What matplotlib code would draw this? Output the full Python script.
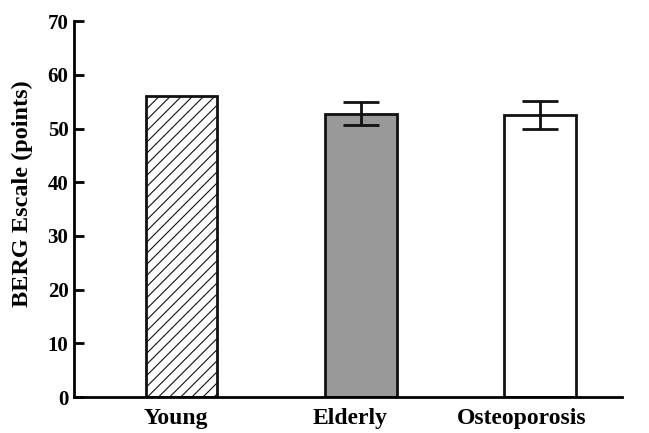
import numpy as np
import matplotlib.pyplot as plt

# values
groups = ["Young", "Elderly", "Osteoporosis"]
means = [56.0, 52.8, 52.5]
errors = [0.0, 2.1, 2.6]
yticks = [0, 10, 20, 30, 40, 50, 60, 70]

plt.rcParams['font.family'] = ['Liberation Serif', 'DejaVu Serif']
plt.rcParams['font.weight'] = 'bold'
plt.rcParams['hatch.linewidth'] = 0.8

fig = plt.figure(figsize=(6.49, 4.33), dpi=100)
ax = fig.add_axes([0.114, 0.083, 0.844, 0.868])

x = np.arange(len(groups))
colors = ["white", "#999999", "white"]
hatches = ["///", "", ""]
for i in range(len(groups)):
    ax.bar(x[i], means[i], width=0.4, color=colors[i], edgecolor="#111111",
           linewidth=2, hatch=hatches[i], zorder=2)
    if errors[i] > 0:
        ax.errorbar(x[i], means[i], yerr=errors[i], fmt="none", ecolor="#111111",
                    elinewidth=2, capsize=13, capthick=2, zorder=3)

ax.set_xlim(-0.6, 2.457)
ax.set_ylim(0, 70)
ax.set_yticks(yticks)
# labels in the original sit a little left of the bar centres
ax.set_xticks(x + np.array([-0.03, -0.06, -0.10]))
ax.set_xticklabels(groups, fontsize=17, fontweight="bold")
ax.tick_params(axis="x", length=0, pad=8)
ax.tick_params(axis="y", direction="in", length=7, width=2, labelsize=15, pad=4)
for lab in ax.get_yticklabels():
    lab.set_fontweight("bold")

ax.spines["top"].set_visible(False)
ax.spines["right"].set_visible(False)
ax.spines["left"].set_linewidth(2)
ax.spines["bottom"].set_linewidth(2)

ax.set_ylabel("BERG Escale (points)", fontsize=17.5, fontweight="bold")
ax.yaxis.set_label_coords(-0.075, 0.54)

fig.savefig("out.png", dpi=100)
